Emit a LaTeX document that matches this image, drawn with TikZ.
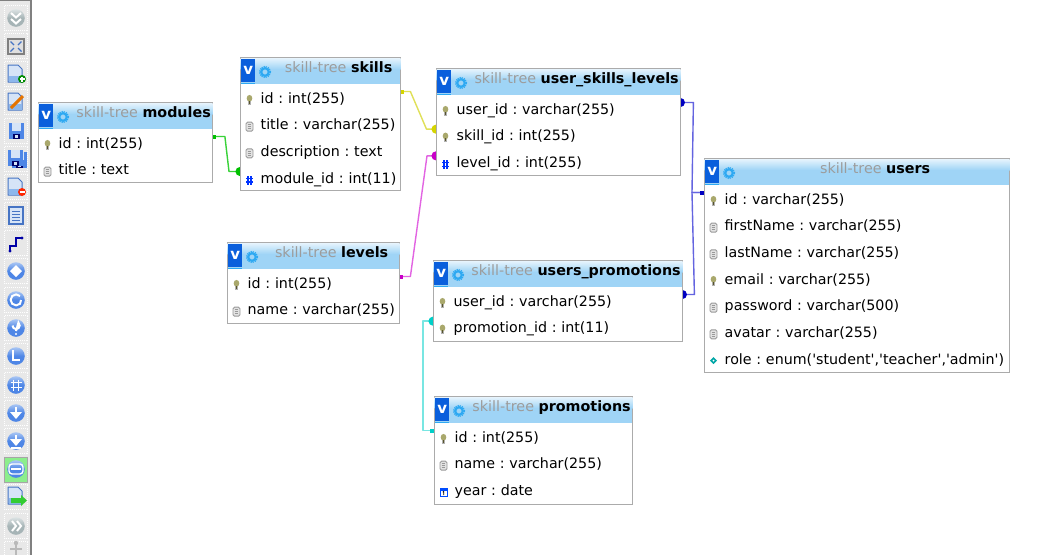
\documentclass[tikz,border=0pt]{standalone}
\usepackage{fontspec}
\setmainfont{DejaVu Sans}[Ligatures=TeXOff]
\usepackage{tikz}
\usetikzlibrary{positioning,arrows.meta,backgrounds,shapes.geometric}
\frenchspacing

\definecolor{headblue}{HTML}{9FD4F6}
\definecolor{badgeblue}{HTML}{0A5FDC}
\definecolor{gearblue}{HTML}{2EA9F2}
\definecolor{tablegray}{HTML}{ABABAB}
\definecolor{titlegray}{HTML}{9C9C9C}
\definecolor{ballblue}{HTML}{4E86E6}
\definecolor{balltop}{HTML}{A9C6F4}
\definecolor{ballgray}{HTML}{A6B4B6}
\definecolor{balllight}{HTML}{DCE3E4}
\definecolor{pageedge}{HTML}{4674C4}
\definecolor{pagefill}{HTML}{D6E4F7}
\definecolor{pageband}{HTML}{8DB7EC}
\definecolor{keyolive}{HTML}{A9A86C}
\definecolor{greenline}{HTML}{38D238}
\definecolor{greenmark}{HTML}{00C000}
\definecolor{yellowline}{HTML}{E0E058}
\definecolor{yellowmark}{HTML}{D4D400}
\definecolor{pinkline}{HTML}{E264E2}
\definecolor{pinkmark}{HTML}{C800C8}
\definecolor{cyanline}{HTML}{78E6E2}
\definecolor{cyanmark}{HTML}{00CFC8}
\definecolor{blueline}{HTML}{6464E0}
\definecolor{bluemark}{HTML}{0000C0}

\tikzset{
    tablebody/.style={draw=tablegray, line width=1.2pt, fill=white, anchor=north west, inner sep=0pt},
    tablehead/.style={fill=headblue, anchor=north west, inner sep=0pt, minimum height=25.5pt},
    tablebadge/.style={fill=badgeblue, anchor=north west, inner sep=0pt, minimum width=14pt, minimum height=23pt, text=white,
        font=\fontsize{15}{15}\selectfont\bfseries},
    tabletitle/.style={anchor=center, inner sep=0pt, font=\fontsize{14.3}{16}\selectfont, text height=11pt, text depth=3pt},
    rowtext/.style={anchor=west, inner xsep=0pt, inner ysep=0pt, align=left, text height=11pt, text depth=3pt,
        font=\fontsize{14.25}{16}\selectfont},
    rel/.style 2 args={draw=#1, line width=1.4pt, line join=round,
        arrows={{Square[length=4pt,width=4pt,color=#2]}-{Circle[length=9pt,color=#2]}}},
    toolframe/.style={draw=white, densely dotted, line width=1pt},
}

% field glyphs
\newcommand{\keyglyph}[1]{\begin{scope}[shift={#1}]
    \fill[gray!60] (-1.8,1) rectangle (1.8,5);
    \fill[keyolive] (0,-1.2) ellipse (2.8 and 3.4);
    \fill[olive!50!black] (-0.7,1) rectangle (0.7,4);
\end{scope}}
\newcommand{\docglyph}[1]{\begin{scope}[shift={#1}]
    \draw[gray!80, fill=gray!22, rounded corners=1.5pt, line width=0.9pt] (-3.5,-4) rectangle (3.5,5);
    \draw[gray!80, line width=0.6pt] (-1.8,-1.5) -- (1.8,-1.5) (-1.8,0.5) -- (1.8,0.5) (-1.8,2.5) -- (1.8,2.5);
\end{scope}}
\newcommand{\hashglyph}[1]{\begin{scope}[shift={#1}]
    \draw[blue!80!cyan, line width=1.1pt] (-1.5,-3.5) -- (-1.5,5) (1.5,-3.5) -- (1.5,5) (-3.5,-1) -- (3.5,-1) (-3.5,2.5) -- (3.5,2.5);
\end{scope}}
\newcommand{\enumglyph}[1]{\begin{scope}[shift={#1}]
    \fill[teal!70!cyan] (0,-3.5) -- (3.5,0) -- (0,3.5) -- (-3.5,0) -- cycle;
    \fill[white] (0,-1) -- (1,0) -- (0,1) -- (-1,0) -- cycle;
\end{scope}}
\newcommand{\dateglyph}[1]{\begin{scope}[shift={#1}]
    \draw[blue!70!cyan, fill=white, line width=1pt] (-3.5,-3) rectangle (3.5,4.5);
    \fill[blue!70!cyan] (-3.5,-3) rectangle (3.5,-1);
    \draw[black, line width=0.7pt] (-0.8,0.3) -- (0.2,-0.4) -- (0.2,3.2);
\end{scope}}

% name, left, top, width, height, title, rows
\newcommand{\dbtable}[7]{
    \node[tablebody, minimum width=#4pt-1pt, minimum height=#5pt-1pt] (#1) at (#2,#3) {};
    \node[tablehead, minimum width=#4pt-2pt] (#1-head) at ([xshift=0.5pt,yshift=-1pt]#1.north west) {};
    \shade[top color=white!75!headblue, bottom color=headblue] ([xshift=0.5pt,yshift=-1pt]#1.north west) rectangle ([xshift=-0.5pt,yshift=-12pt]#1.north east);
    \node[tablebadge] (#1-badge) at ([xshift=1pt,yshift=-2pt]#1.north west) {\raisebox{1pt}{v}};
    \fill[gearblue] ([yshift=-1.5pt]#1-badge.south west) rectangle ([yshift=-1pt]#1-badge.south east);
    \draw[gearblue, line width=2.2pt] ([xshift=25pt,yshift=-15pt]#1.north west) circle (3.8pt);
    \draw[gearblue, line width=1.2pt, densely dotted] ([xshift=25pt,yshift=-15pt]#1.north west) circle (5.6pt);
    \node[tabletitle] (#1-title) at ([xshift=18pt,yshift=-11.5pt]#1.north) {\textcolor{titlegray}{skill-tree} \textbf{#6}};
    \foreach \rowname/\rowtext/\rowglyph [count=\n] in {#7} {
        \pgfmathsetmacro{\rowy}{27+15+26.67*(\n-1)}
        \node[rowtext, text width=#4pt-1pt] (#1-\rowname) at ([yshift=-\rowy pt]#1.north west) {\hspace*{20.5pt}\rowtext};
        \rowglyph{([xshift=9.5pt,yshift=-0.5pt]#1-\rowname.west)}
    }
}

% toolbar glyphs
\newcommand{\ballglyph}[3]{\begin{scope}[shift={(16,#1)}]
    \shade[top color=#3, bottom color=#2, middle color=#2] (0,0) circle (8.8);
\end{scope}}
\newcommand{\pageglyph}[1]{\begin{scope}[shift={(15,#1)}]
    \draw[pageedge, fill=pagefill, line width=1pt, line join=round] (-7,-9) -- (3,-9) -- (7,-5) -- (7,8) -- (-7,8) -- cycle;
    \fill[pageband] (-6.5,2) rectangle (6.5,7.5);
\end{scope}}
\newcommand{\diskglyph}[2]{\begin{scope}[shift={(#1,#2)}]
    \fill[ballblue] (-7.5,-8) rectangle (7.5,8);
    \fill[pagefill] (-4.5,-8) rectangle (4.5,-0.5);
    \fill[black!60!blue] (-3.5,2.5) rectangle (4,8);
    \fill[pagefill] (-1,3.5) rectangle (1.5,7);
\end{scope}}

\begin{document}
\begin{tikzpicture}[x=1pt, y=-1pt]
\useasboundingbox (0,0) rectangle (1061,555);
\begin{pgfonlayer}{background}
\fill[white] (0,0) rectangle (1061,555);
\end{pgfonlayer}

% toolbar
\fill[gray!18] (0,0) rectangle (31,555);
\draw[gray, line width=1.2pt] (0,0.5) -- (31,0.5) -- (31,555);
\fill[green!85!black!45, draw=gray!70, line width=1pt] (4.5,457) rectangle (27.5,482);
\foreach \toolY in {18,46,74,102,131,159,187,215,243,271,300,328,356,385,413,441,497,526,554} {
    \draw[toolframe] (4.5,\toolY-12.5) rectangle (27.5,\toolY+12.5);
}
\ballglyph{18}{ballgray}{balllight}
\draw[white, line width=2pt] (11,13) -- (16,17.5) -- (21,13) (11,19) -- (16,23.5) -- (21,19);
\draw[gray, fill=gray!25, line width=1.2pt] (8,39) rectangle (24,54);
\draw[pageedge, line width=1.4pt] (10.5,41.5) -- (14,45) (21.5,41.5) -- (18,45) (10.5,51.5) -- (14,48) (21.5,51.5) -- (18,48);
\pageglyph{74}
\fill[green!55!black] (22,79) circle (4);
\draw[white, line width=1.2pt] (19.5,79) -- (24.5,79) (22,76.5) -- (22,81.5);
\pageglyph{102}
\draw[orange!90!black, line width=3pt] (11,108) -- (23,96);
\diskglyph{16}{131}
\diskglyph{19}{160}
\diskglyph{15}{158}
\pageglyph{187}
\fill[red!70!orange] (22,192) circle (4);
\draw[white, line width=1.2pt] (19.5,192) -- (24.5,192);
\draw[pageedge, fill=pagefill, line width=1.4pt] (9,207) rectangle (23,224);
\draw[pageedge, line width=1pt] (12,211) -- (20,211) (12,214) -- (20,214) (12,217) -- (20,217) (12,220) -- (20,220);
\draw[blue!65!black, line width=1.4pt] (10,251) -- (10,246) -- (16,246) -- (16,238) -- (22,238);
\fill[blue!65!black] (10,251) circle (1.6) (22,238) circle (1.6);
\ballglyph{271}{ballblue}{balltop}
\fill[white] (16,265) -- (22,271) -- (16,277) -- (10,271) -- cycle;
\ballglyph{300}{ballblue}{balltop}
\draw[white, line width=2pt] (20,296) arc (-45:-315:5.5) -- (21,300);
\ballglyph{328}{ballblue}{balltop}
\draw[white, line width=2pt] (12.5,325.5) arc (180:-50:3.6) -- (16,331);
\fill[white] (16,334) circle (1.2);
\ballglyph{356}{ballblue}{balltop}
\draw[white, line width=2pt] (13,350) -- (13,360) -- (20,360);
\ballglyph{385}{ballblue}{balltop}
\draw[white, line width=1.5pt] (13.5,379.5) -- (13.5,390.5) (18.5,379.5) -- (18.5,390.5) (10.5,382.5) -- (21.5,382.5) (10.5,387.5) -- (21.5,387.5);
\ballglyph{413}{ballblue}{balltop}
\draw[white, line width=2.4pt] (16,407) -- (16,417);
\fill[white] (10,412) -- (22,412) -- (16,419) -- cycle;
\ballglyph{441}{ballblue}{balltop}
\draw[white, line width=2.4pt] (16,435) -- (16,442);
\fill[white] (10,439) -- (22,439) -- (16,446) -- cycle;
\fill[white] (11,447) rectangle (21,448.5);
\ballglyph{469}{ballblue}{balltop}
\draw[white, line width=1.4pt, rounded corners=3pt] (9,464) rectangle (23,474);
\draw[white, line width=1.3pt] (11,469) -- (21,469);
\pageglyph{496}
\fill[green!60!gray] (11,498) rectangle (21,503) (21,495) -- (27,500.5) -- (21,506) -- cycle;
\ballglyph{526}{ballgray}{balllight}
\draw[white, line width=2pt] (12,521) -- (16,526) -- (12,531) (17,521) -- (21,526) -- (17,531);
\draw[gray!55, line width=1.6pt] (16,545) -- (16,555) (10,549) -- (22,549);
\fill[gray!55] (16,543) circle (2.2);

% tables
\dbtable{modules}{38}{102}{175}{81}{modules}{
    id/{id : int(255)}/\keyglyph,
    title/{title : text}/\docglyph}
\dbtable{skills}{240}{57}{161}{134}{skills}{
    id/{id : int(255)}/\keyglyph,
    title/{title : varchar(255)}/\docglyph,
    description/{description : text}/\docglyph,
    moduleid/{module\_id : int(11)}/\hashglyph}
\dbtable{userskills}{436}{68}{245}{108}{user\_skills\_levels}{
    userid/{user\_id : varchar(255)}/\keyglyph,
    skillid/{skill\_id : int(255)}/\keyglyph,
    levelid/{level\_id : int(255)}/\hashglyph}
\dbtable{users}{704}{158}{306}{215}{users}{
    id/{id : varchar(255)}/\keyglyph,
    firstname/{firstName : varchar(255)}/\docglyph,
    lastname/{lastName : varchar(255)}/\docglyph,
    email/{email : varchar(255)}/\keyglyph,
    password/{password : varchar(500)}/\docglyph,
    avatar/{avatar : varchar(255)}/\docglyph,
    role/{role : enum('student','teacher','admin')}/\enumglyph}
\dbtable{levels}{227}{242}{173}{82}{levels}{
    id/{id : int(255)}/\keyglyph,
    name/{name : varchar(255)}/\docglyph}
\dbtable{userspromotions}{433}{260}{250}{82}{users\_promotions}{
    userid/{user\_id : varchar(255)}/\keyglyph,
    promotionid/{promotion\_id : int(11)}/\keyglyph}
\dbtable{promotions}{434}{396}{199}{109}{promotions}{
    id/{id : int(255)}/\keyglyph,
    name/{name : varchar(255)}/\docglyph,
    year/{year : date}/\dateglyph}

% relations, kept under the tables
\begin{pgfonlayer}{background}
\draw[rel={greenline}{greenmark}] ([yshift=7.5pt]modules-id.east) -- ++(12.5,0)
    -- ([xshift=-11pt,yshift=7.5pt]skills-moduleid.west) -- ([xshift=4.5pt,yshift=7.5pt]skills-moduleid.west);
\draw[rel={yellowline}{yellowmark}] ([yshift=7.5pt]skills-id.east) -- ++(10,0)
    -- ([xshift=-9.5pt,yshift=7.5pt]userskills-skillid.west) -- ([xshift=4.5pt,yshift=7.5pt]userskills-skillid.west);
\draw[rel={pinkline}{pinkmark}] ([yshift=7.5pt]levels-id.east) -- ++(11,0)
    -- ([xshift=-9pt,yshift=7.5pt]userskills-levelid.west) -- ([xshift=4.5pt,yshift=7.5pt]userskills-levelid.west);
\draw[rel={cyanline}{cyanmark}] ([yshift=7.5pt]promotions-id.west) -- ++(-11,0)
    -- ([xshift=-10pt,yshift=7.5pt]userspromotions-promotionid.west) -- ([xshift=4.5pt,yshift=7.5pt]userspromotions-promotionid.west);
\draw[rel={blueline}{bluemark}] ([yshift=7.5pt]users-id.west) -- ++(-12,0)
    -- ([xshift=13pt,yshift=7.5pt]userskills-userid.east) -- ([xshift=-4.5pt,yshift=7.5pt]userskills-userid.east);
\draw[rel={blueline}{bluemark}] ([yshift=7.5pt]users-id.west) -- ++(-12,0)
    -- ([xshift=12pt,yshift=7.5pt]userspromotions-userid.east) -- ([xshift=-4.5pt,yshift=7.5pt]userspromotions-userid.east);
\end{pgfonlayer}
\end{tikzpicture}
\end{document}
